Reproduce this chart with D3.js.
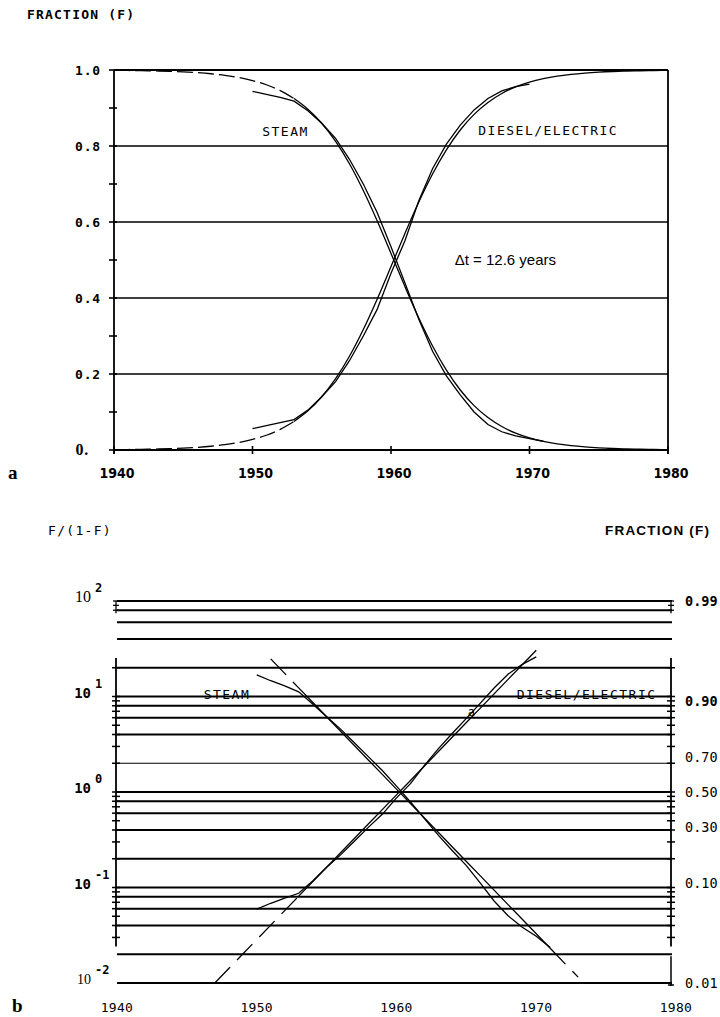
<!DOCTYPE html>
<html>
<head>
<meta charset="utf-8">
<script src="https://cdn.jsdelivr.net/npm/d3@7"></script>
<style>
  body { margin: 0; background: #fff; }
  text { fill: #000; }
  .mono { font-family: "DejaVu Sans Mono", monospace; }
  .narrow { font-family: "Liberation Sans Narrow", "DejaVu Sans Condensed", sans-serif; }
</style>
</head>
<body>
<div id="chart"></div>
<script>
// fitted logistic curves (fraction F)
const fitYears = d3.range(1940, 1981);
const dieselFit = [0.00087, 0.00123, 0.00175, 0.00247, 0.0035, 0.00496, 0.00701, 0.00991, 0.01399, 0.01971,
  0.02771, 0.03883, 0.05418, 0.07508, 0.1031, 0.1402, 0.1877, 0.2467, 0.3171, 0.3968,
  0.4826, 0.5693, 0.652, 0.7264, 0.79, 0.8421, 0.8832, 0.9146, 0.9383, 0.9556,
  0.9683, 0.9774, 0.984, 0.9886, 0.9919, 0.9943, 0.996, 0.9972, 0.998, 0.9986, 0.999];
const steamFit = [0.99913, 0.99877, 0.99825, 0.99753, 0.9965, 0.99504, 0.99299, 0.99009, 0.98601, 0.98029,
  0.97229, 0.96117, 0.94582, 0.92492, 0.8969, 0.8598, 0.8123, 0.7533, 0.6829, 0.6032,
  0.5174, 0.4307, 0.348, 0.2736, 0.21, 0.1579, 0.1168, 0.0854, 0.0617, 0.0444,
  0.0317, 0.0226, 0.016, 0.0114, 0.0081, 0.0057, 0.004, 0.0028, 0.002, 0.0014, 0.001];

// observed fractions
const dataYears = d3.range(1950, 1972);
const steamData = [0.944, 0.936, 0.928, 0.918, 0.893, 0.86, 0.82, 0.765, 0.70, 0.625, 0.535,
  0.44, 0.345, 0.26, 0.195, 0.145, 0.10, 0.067, 0.048, 0.037, 0.030, 0.023];
const dieselData = [0.056, 0.064, 0.072, 0.080, 0.105, 0.14, 0.18, 0.235, 0.30, 0.37, 0.465,
  0.55, 0.655, 0.74, 0.805, 0.855, 0.895, 0.925, 0.945, 0.956, 0.963];

const yearTicks = [1940, 1950, 1960, 1970, 1980];
const fTicks = [0, 0.2, 0.4, 0.6, 0.8, 1.0];
const fTickLabels = ["0.", "0.2", "0.4", "0.6", "0.8", "1.0"];
const fMinor = [0.1, 0.3, 0.5, 0.7, 0.9];
const ratioGrid = [100, 80, 60, 40, 20, 10, 8, 6, 4, 2, 1, 0.8, 0.6, 0.4, 0.2, 0.1, 0.08, 0.06, 0.04, 0.02, 0.01];
const ratioDecades = [100, 10, 1, 0.1, 0.01];
const decadeExps = ["2", "1", "0", "-1", "-2"];
const fracTicks = [0.99, 0.90, 0.70, 0.50, 0.30, 0.10, 0.01];
const fracLabels = ["0.99", "0.90", "0.70", "0.50", "0.30", "0.10", "0.01"];

const w = 720;
const h = 1017;
const svg = d3.select("#chart").append("svg").attr("width", w).attr("height", h);

const xT = d3.scaleLinear().domain([1940, 1980]).range([114, 668]);
const yT = d3.scaleLinear().domain([0, 1]).range([450, 70]);
const xB = d3.scaleLinear().domain([1940, 1980]).range([117, 676]);
const yB = d3.scaleLog().domain([0.01, 100]).range([983, 601]);
const ratio = (f) => f / (1 - f);

const fit = (arr) => fitYears.map((y, i) => [y, arr[i]]);
const obs = (arr) => arr.map((v, i) => [dataYears[i], v]);
const between = (pts, a, b) => pts.filter((d) => d[0] >= a && d[0] <= b);

/* ---------- panel a ---------- */
const panelA = svg.append("g");

panelA.append("text").attr("class", "mono").attr("x", 27).attr("y", 19)
  .attr("font-size", 13).attr("font-weight", "bold").attr("letter-spacing", 1.2)
  .text("FRACTION (F)");

panelA.selectAll(".gridT").data(fTicks).enter().append("line")
  .attr("x1", xT(1940)).attr("x2", xT(1980))
  .attr("y1", (d) => yT(d)).attr("y2", (d) => yT(d))
  .attr("stroke", "#000").attr("stroke-width", (d) => (d === 0 || d === 1 ? 1.8 : 1.5));

panelA.append("line").attr("x1", xT(1940)).attr("x2", xT(1940)).attr("y1", yT(1)).attr("y2", yT(0) + 4)
  .attr("stroke", "#000").attr("stroke-width", 1.8);
panelA.append("line").attr("x1", xT(1980)).attr("x2", xT(1980)).attr("y1", yT(1)).attr("y2", yT(0) + 4)
  .attr("stroke", "#000").attr("stroke-width", 1.8);

panelA.selectAll(".tickT").data(fTicks.concat(fMinor)).enter().append("line")
  .attr("x1", xT(1940) - 5).attr("x2", xT(1940) + 3)
  .attr("y1", (d) => yT(d)).attr("y2", (d) => yT(d))
  .attr("stroke", "#000").attr("stroke-width", 1.6);

panelA.selectAll(".xtickT").data(yearTicks).enter().append("line")
  .attr("x1", (d) => xT(d)).attr("x2", (d) => xT(d))
  .attr("y1", yT(0) - 4).attr("y2", yT(0) + 4)
  .attr("stroke", "#000").attr("stroke-width", 1.6);

panelA.selectAll(".ylabT").data(fTicks).enter().append("text")
  .attr("x", (d, i) => (i === 0 ? 89 : 101)).attr("y", (d) => yT(d) + 5)
  .attr("text-anchor", "end")
  .attr("font-family", (d, i) => (i === 0 ? "Liberation Serif, serif" : "DejaVu Sans Mono, monospace"))
  .attr("font-size", (d, i) => (i === 0 ? 16 : 13))
  .attr("font-weight", "bold").attr("letter-spacing", 0.8)
  .text((d, i) => fTickLabels[i]);

panelA.selectAll(".xlabT").data(yearTicks).enter().append("text")
  .attr("class", "narrow").attr("x", (d) => xT(d) + 3).attr("y", 478)
  .attr("text-anchor", "middle").attr("font-size", 14).attr("font-weight", "bold")
  .text((d) => d);

panelA.append("text").attr("x", 8).attr("y", 479).attr("font-family", "Liberation Serif, serif")
  .attr("font-size", 19).attr("font-weight", "bold").text("a");

const lineT = d3.line().x((d) => xT(d[0])).y((d) => yT(d[1]));
const smoothT = d3.line().x((d) => xT(d[0])).y((d) => yT(d[1])).curve(d3.curveMonotoneX);

[dieselFit, steamFit].forEach((arr) => {
  panelA.append("path").datum(between(fit(arr), 1940, 1953)).attr("d", smoothT)
    .attr("fill", "none").attr("stroke", "#000").attr("stroke-width", 1.3).attr("stroke-dasharray", "16,5");
  panelA.append("path").datum(between(fit(arr), 1953, 1980)).attr("d", smoothT)
    .attr("fill", "none").attr("stroke", "#000").attr("stroke-width", 1.3);
});
[dieselData, steamData].forEach((arr) => {
  panelA.append("path").datum(obs(arr)).attr("d", lineT)
    .attr("fill", "none").attr("stroke", "#000").attr("stroke-width", 1.3);
});

panelA.append("text").attr("class", "mono").attr("x", xT(1950.7)).attr("y", yT(0.826))
  .attr("font-size", 13).attr("letter-spacing", 1.5).text("STEAM");
panelA.append("text").attr("class", "mono").attr("x", xT(1966.3)).attr("y", yT(0.829))
  .attr("font-size", 13).attr("letter-spacing", 1.5).text("DIESEL/ELECTRIC");
panelA.append("text").attr("x", xT(1964.6)).attr("y", yT(0.488))
  .attr("font-family", "Liberation Sans, Arial, sans-serif").attr("font-size", 15)
  .text("\u0394t = 12.6 years");

/* ---------- panel b ---------- */
const panelB = svg.append("g");
const leftB = 116;
const rightB = 671;

panelB.append("text").attr("class", "mono").attr("x", 48).attr("y", 535)
  .attr("font-size", 13).attr("letter-spacing", 1.3).text("F/(1-F)");
panelB.append("text").attr("x", 605).attr("y", 535)
  .attr("font-family", "Liberation Sans, Arial, sans-serif").attr("font-weight", "bold")
  .attr("font-size", 13.5).attr("letter-spacing", 1.2).text("FRACTION (F)");

panelB.selectAll(".gridB").data(ratioGrid).enter().append("line")
  .attr("x1", leftB + 1).attr("x2", rightB + 1)
  .attr("y1", (d) => yB(d)).attr("y2", (d) => yB(d))
  .attr("stroke", "#000").attr("stroke-width", (d) => (d === 2 ? 1 : 2));

// axes (left and right), drawn over the middle part only as in the original
const axisTop = yB(25.3);
const axisBot = yB(0.0241);
[leftB, rightB].forEach((x) => {
  panelB.append("line").attr("x1", x).attr("x2", x).attr("y1", axisTop).attr("y2", axisBot)
    .attr("stroke", "#000").attr("stroke-width", 1.8);
  const minor = yB.ticks().filter((v) => v <= 25 && v >= 0.025);
  panelB.selectAll(null).data(minor).enter().append("line")
    .attr("x1", x - 4).attr("x2", x + 4)
    .attr("y1", (d) => yB(d)).attr("y2", (d) => yB(d))
    .attr("stroke", "#000").attr("stroke-width", 1.5);
  panelB.selectAll(null).data([100, 90, 80]).enter().append("line")
    .attr("x1", x - 3).attr("x2", x + 3)
    .attr("y1", (d) => yB(d)).attr("y2", (d) => yB(d))
    .attr("stroke", "#000").attr("stroke-width", 1.3);
  panelB.append("line").attr("x1", x).attr("x2", x).attr("y1", yB(100)).attr("y2", yB(80) + 3)
    .attr("stroke", "#000").attr("stroke-width", 1.3);
});
panelB.append("line").attr("x1", rightB).attr("x2", rightB).attr("y1", yB(0.02) + 2).attr("y2", yB(0.01) + 3)
  .attr("stroke", "#000").attr("stroke-width", 1.5);
panelB.append("line").attr("x1", rightB - 3).attr("x2", rightB + 3).attr("y1", yB(0.01) + 2).attr("y2", yB(0.01) + 2)
  .attr("stroke", "#000").attr("stroke-width", 1.5);

// left labels 10^n
const decLab = panelB.selectAll(".decB").data(ratioDecades).enter().append("g");
decLab.append("text")
  .attr("x", 91).attr("y", (d) => yB(d) + 1).attr("text-anchor", "end")
  .attr("font-family", (d, i) => (i === 0 || i === 4 ? "Liberation Serif, serif" : "DejaVu Sans Mono, monospace"))
  .attr("font-weight", (d, i) => (i === 0 || i === 4 ? "normal" : "bold"))
  .attr("font-size", (d, i) => (i === 0 ? 16 : 14))
  .text("10");
decLab.append("text")
  .attr("x", 95).attr("y", (d) => yB(d) - 9)
  .attr("font-family", "DejaVu Sans Mono, monospace").attr("font-weight", "bold").attr("font-size", 12)
  .text((d, i) => decadeExps[i]);

// right labels in F
panelB.selectAll(".fracB").data(fracTicks).enter().append("text")
  .attr("class", "mono").attr("x", 685).attr("y", (d) => yB(ratio(d)) + 5)
  .attr("font-size", 13.5).attr("font-weight", (d) => (d >= 0.9 ? "bold" : "normal"))
  .text((d, i) => fracLabels[i]);

panelB.selectAll(".xlabB").data(yearTicks).enter().append("text")
  .attr("class", "mono").attr("x", (d) => xB(d)).attr("y", 1012)
  .attr("text-anchor", "middle").attr("font-size", 13).attr("letter-spacing", 0.3)
  .text((d) => d);
panelB.append("text").attr("x", 12).attr("y", 1012).attr("font-family", "Liberation Serif, serif")
  .attr("font-size", 19).attr("font-weight", "bold").text("b");

svg.append("clipPath").attr("id", "clipB").append("rect")
  .attr("x", leftB).attr("y", yB(100)).attr("width", rightB - leftB).attr("height", yB(0.01) - yB(100));
const plotB = panelB.append("g").attr("clip-path", "url(#clipB)");
const lineB = d3.line().x((d) => xB(d[0])).y((d) => yB(ratio(d[1])));
const drawB = (pts, dash) => {
  plotB.append("path").datum(pts).attr("d", lineB)
    .attr("fill", "none").attr("stroke", "#000").attr("stroke-width", 1.3)
    .attr("stroke-dasharray", dash ? "22,10" : null);
};
drawB(between(fit(dieselFit), 1947, 1953), true);
drawB(between(fit(dieselFit), 1953, 1970), false);
drawB(between(fit(steamFit), 1951, 1953), true);
drawB(between(fit(steamFit), 1953, 1971), false);
drawB(between(fit(steamFit), 1971, 1973), true);
drawB(obs(dieselData), false);
drawB(obs(steamData), false);

panelB.append("text").attr("class", "mono").attr("x", xB(1946.2)).attr("y", yB(ratio(0.93)) + 14)
  .attr("font-size", 13).attr("letter-spacing", 1.5).text("STEAM");
panelB.append("text").attr("class", "mono").attr("x", xB(1968.6)).attr("y", yB(ratio(0.93)) + 14)
  .attr("font-size", 13).attr("letter-spacing", 1.5).text("DIESEL/ELECTRIC");
panelB.append("text").attr("class", "mono").attr("x", xB(1965.1)).attr("y", yB(6.2))
  .attr("font-size", 12).text("a");
</script>
</body>
</html>
